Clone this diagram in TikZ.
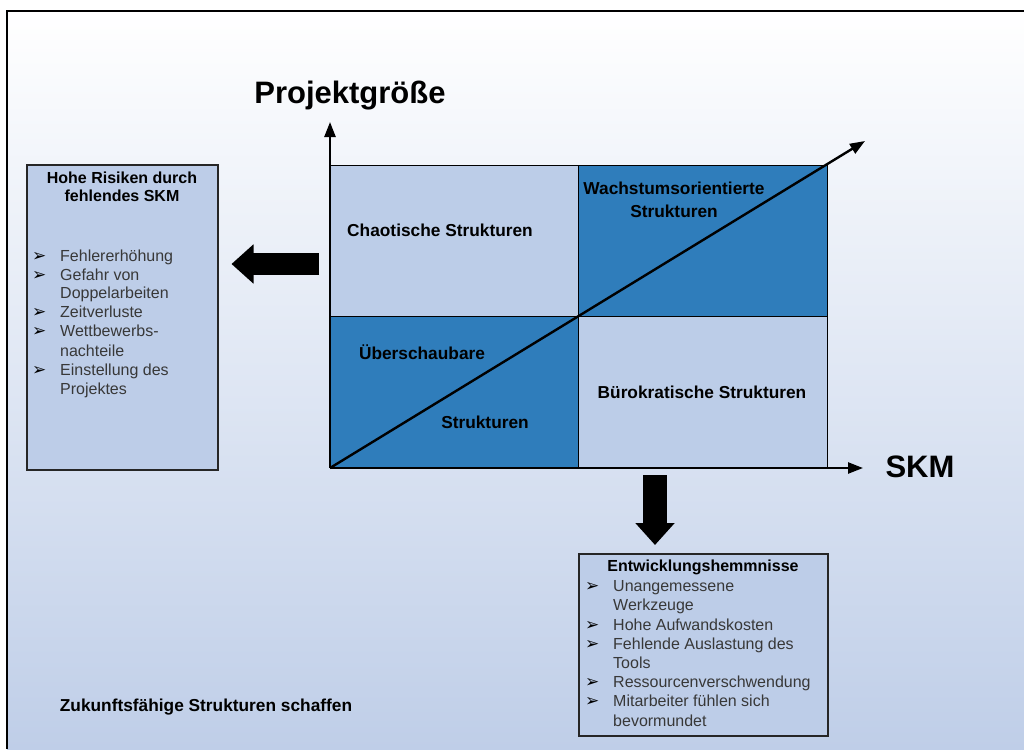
\documentclass[tikz,border=0pt]{standalone}
\usepackage{fontspec}
\setmainfont{Liberation Sans}
\newfontfamily\symfont{DejaVu Sans}
\usetikzlibrary{arrows.meta, positioning}

\definecolor{bgblue}{HTML}{BFCEE8}
\definecolor{lightq}{HTML}{BCCDE8}
\definecolor{darkq}{HTML}{2F7DBB}
\definecolor{boxblue}{HTML}{BDCDE8}
\definecolor{itemgray}{HTML}{383838}

\tikzset{
  axis/.style={line width=2.4pt, -{Triangle[length=15pt, width=11pt]}},
  axlabel/.style={font=\fontsize{31}{34}\selectfont\bfseries, inner sep=0pt},
  qlabel/.style={font=\fontsize{17.3}{23}\selectfont\bfseries, inner sep=0pt},
  listbox/.style={draw=black!85, line width=1.5pt, fill=boxblue},
  boxhead/.style={font=\fontsize{16}{18}\selectfont\bfseries, inner sep=0pt},
  item/.style={anchor=west, font=\fontsize{16}{19}\selectfont, text=itemgray,
    inner sep=0pt, text height=11.5pt, text depth=3.5pt},
  bullet/.style={anchor=west, font=\symfont\fontsize{17}{19}\selectfont,
    inner sep=0pt, text height=11.5pt, text depth=3.5pt},
  blockarrow/.style={line width=22pt, -{Triangle[length=22pt, width=38pt]}}
}

\begin{document}
\begin{tikzpicture}[x=1pt, y=-1pt]
  % background
  \useasboundingbox (0,0) rectangle (1024,749);
  \shade[top color=white, bottom color=bgblue] (7,11) rectangle (1024,749);
  \draw[line width=1.2pt] (7,749) -- (7,11) -- (1024,11);

  % quadrants
  \fill[lightq] (330,165) rectangle (578,316);
  \fill[darkq] (578,165) rectangle (827,316);
  \fill[darkq] (330,316) rectangle (578,468);
  \fill[lightq] (578,316) rectangle (827,468);
  \draw[line width=0.8pt] (330,165) rectangle (827,468);
  \draw[line width=0.8pt] (578,165) -- (578,468);
  \draw[line width=0.8pt] (330,316) -- (827,316);

  % axes
  \coordinate (O) at (330,468);
  \coordinate (ytip) at (330,122);
  \coordinate (xtip) at (863,468);
  \coordinate (dtip) at (865,141);
  \draw[axis] (O) -- (ytip);
  \draw[axis] (O) -- (xtip);
  \draw[axis] (O) -- (dtip);

  \node[axlabel] (ylab) at (350,96) {Projektgröße};
  \node[axlabel] (xlab) at (920,467) {SKM};

  % quadrant labels
  \node[qlabel] (chaos) at (440,230) {Chaotische Strukturen};
  \node[qlabel, align=center] (growth) at (674,200) {Wachstumsorientierte\\Strukturen};
  \node[qlabel] (clear) at (422,352) {Überschaubare};
  \node[qlabel] (clearb) at (485,422) {Strukturen};
  \node[qlabel] (bureau) at (702,392) {Bürokratische Strukturen};

  % left box
  \node[listbox, minimum width=191pt, minimum height=305pt, anchor=north west] (risk) at (26,164) {};
  \node[boxhead, align=center] (riskhead) at (122,187) {Hohe Risiken durch\\fehlendes SKM};
  \node[bullet] at (32,257) {➢};
  \node[item] at (60,257) {Fehlererhöhung};
  \node[bullet] at (32,276) {➢};
  \node[item] at (60,276) {Gefahr von};
  \node[item] at (60,294) {Doppelarbeiten};
  \node[bullet] at (32,313) {➢};
  \node[item] at (60,313) {Zeitverluste};
  \node[bullet] at (32,332) {➢};
  \node[item] at (60,332) {Wettbewerbs-};
  \node[item] at (60,352) {nachteile};
  \node[bullet] at (32,371) {➢};
  \node[item] at (60,371) {Einstellung des};
  \node[item] at (60,390) {Projektes};

  % bottom box
  \node[listbox, minimum width=249pt, minimum height=182pt, anchor=north west] (hemm) at (578,553) {};
  \node[boxhead] (hemmhead) at (703,567) {Entwicklungshemmnisse};
  \node[bullet] at (585,587) {➢};
  \node[item] at (613,587) {Unangemessene};
  \node[item] at (613,606) {Werkzeuge};
  \node[bullet] at (585,626) {➢};
  \node[item] at (613,626) {Hohe Aufwandskosten};
  \node[bullet] at (585,645) {➢};
  \node[item] at (613,645) {Fehlende Auslastung des};
  \node[item] at (613,664) {Tools};
  \node[bullet] at (585,683) {➢};
  \node[item] at (613,683) {Ressourcenverschwendung};
  \node[bullet] at (585,702) {➢};
  \node[item] at (613,702) {Mitarbeiter fühlen sich};
  \node[item] at (613,722) {bevormundet};

  % block arrows
  \coordinate (la) at (319,264);
  \draw[blockarrow, shorten >=13pt] (la) -- (la -| risk.east);
  \coordinate (da) at (655,475);
  \draw[blockarrow, line width=24pt, shorten >=8pt] (da) -- (da |- hemm.north);

  \node[qlabel] (future) at (206,707) {Zukunftsfähige Strukturen schaffen};
\end{tikzpicture}
\end{document}
